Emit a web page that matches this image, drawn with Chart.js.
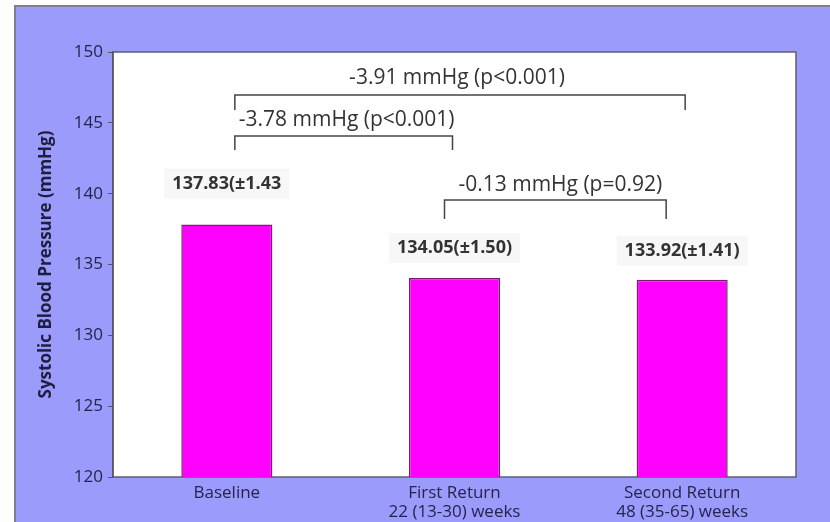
<!DOCTYPE html>
<html>
<head>
<meta charset="utf-8">
<script src="https://cdn.jsdelivr.net/npm/chart.js@4.4.1/dist/chart.umd.min.js"></script>
<style>
  html, body { margin: 0; padding: 0; background: #fdfdfb; }
  #wrap { width: 830px; height: 522px; position: relative; }
</style>
</head>
<body>
<div id="wrap"><canvas id="c" width="830" height="522"></canvas></div>
<script>
// ---------- data ----------
const categories = [
  ['Baseline'],
  ['First Return', '22 (13-30) weeks'],
  ['Second Return', '48 (35-65) weeks']
];
const meanSBP = [137.83, 134.05, 133.92];
const valueLabels = ['137.83(±1.43', '134.05(±1.50)', '133.92(±1.41)'];
const comparisonPairs = [[0, 2], [0, 1], [1, 2]];
const comparisonLabels = ['-3.91 mmHg (p<0.001)', '-3.78 mmHg (p<0.001)', '-0.13 mmHg (p=0.92)'];
const yMin = 120, yMax = 150, yStep = 5;
const yTitle = 'Systolic Blood Pressure (mmHg)';

// ---------- layout (positions / styles) ----------
const bracketLevel = [146.96, 144.07, 139.55];          // y of bracket line, in axis units
const bracketEndOffset = [[8, 3], [8, -2], [-10, -16]];  // px offsets from bar centres
const bracketDrop = [15, 14, 19];                        // px length of bracket legs
const bracketTextDx = [-3, 3, 5];
const bracketTextLift = [17, 16, 15];
const valueLabelLift = [41, 30, 29];

const navy = '#24244f';
const fontFam = "'Open Sans', Lato, sans-serif";

const framePlugin = {
  id: 'frame',
  beforeDraw(chart) {
    const ctx = chart.ctx;
    const a = chart.chartArea;
    ctx.save();
    ctx.fillStyle = '#fdfdfb';
    ctx.fillRect(0, 0, chart.width, chart.height);
    ctx.fillStyle = '#9a9bfa';
    ctx.fillRect(15, 6, chart.width - 15, chart.height - 6);
    ctx.strokeStyle = '#7d7d9a';
    ctx.lineWidth = 2;
    ctx.beginPath();
    ctx.moveTo(15, chart.height);
    ctx.lineTo(15, 6);
    ctx.lineTo(chart.width, 6);
    ctx.stroke();
    ctx.fillStyle = '#ffffff';
    ctx.fillRect(a.left, a.top, a.right - a.left, a.bottom - a.top);
    ctx.strokeStyle = '#5d5d70';
    ctx.lineWidth = 1.5;
    ctx.strokeRect(a.left, a.top, a.right - a.left, a.bottom - a.top);
    ctx.restore();
  },
  afterDatasetsDraw(chart) {
    const ctx = chart.ctx;
    const meta = chart.getDatasetMeta(0);
    const ys = chart.scales.y;
    ctx.save();
    // value labels
    ctx.font = "bold 18px " + fontFam;
    ctx.textAlign = 'center';
    ctx.textBaseline = 'middle';
    meta.data.forEach((bar, i) => {
      const x = bar.x, y = bar.y - valueLabelLift[i];
      const w = ctx.measureText(valueLabels[i]).width;
      ctx.fillStyle = '#f7f7f7';
      ctx.fillRect(x - w / 2 - 8, y - 15, w + 16, 30);
      ctx.fillStyle = '#333333';
      ctx.fillText(valueLabels[i], x, y);
    });
    // comparison brackets
    ctx.strokeStyle = '#444444';
    ctx.lineWidth = 1.5;
    ctx.font = "21px " + fontFam;
    comparisonPairs.forEach((p, k) => {
      const x1 = meta.data[p[0]].x + bracketEndOffset[k][0];
      const x2 = meta.data[p[1]].x + bracketEndOffset[k][1];
      const y = ys.getPixelForValue(bracketLevel[k]);
      ctx.beginPath();
      ctx.moveTo(x1, y + bracketDrop[k]);
      ctx.lineTo(x1, y);
      ctx.lineTo(x2, y);
      ctx.lineTo(x2, y + bracketDrop[k]);
      ctx.stroke();
      ctx.fillStyle = '#333333';
      ctx.fillText(comparisonLabels[k], (x1 + x2) / 2 + bracketTextDx[k], y - bracketTextLift[k]);
    });
    ctx.restore();
  }
};

new Chart(document.getElementById('c'), {
  type: 'bar',
  data: {
    labels: categories,
    datasets: [{
      data: meanSBP,
      backgroundColor: '#ff00ff',
      borderColor: '#7a1d6e',
      borderWidth: 1.5,
      barPercentage: 0.4,
      categoryPercentage: 1.0
    }]
  },
  options: {
    responsive: false,
    animation: false,
    devicePixelRatio: 1,
    layout: { padding: { top: 52, right: 34, left: 0, bottom: 0 } },
    plugins: { legend: { display: false }, tooltip: { enabled: false } },
    scales: {
      x: {
        grid: { display: false },
        border: { display: false },
        ticks: { color: navy, font: { family: fontFam, size: 17, lineHeight: 1.1 }, padding: -1, maxRotation: 0, autoSkip: false },
        afterFit(s) { s.height = 45; }
      },
      y: {
        min: yMin, max: yMax,
        ticks: { stepSize: yStep, color: navy, font: { family: fontFam, size: 17 }, padding: 5 },
        grid: { drawOnChartArea: false, drawTicks: true, tickLength: 5, color: '#555566' },
        border: { display: true, color: '#555566', width: 1.5 },
        title: { display: true, text: yTitle, color: '#1e1e40', font: { family: fontFam, size: 17, weight: 'bold' }, padding: { top: 36, bottom: 0 } },
        afterFit(s) { s.width = 113; }
      }
    }
  },
  plugins: [framePlugin]
});
</script>
</body>
</html>
